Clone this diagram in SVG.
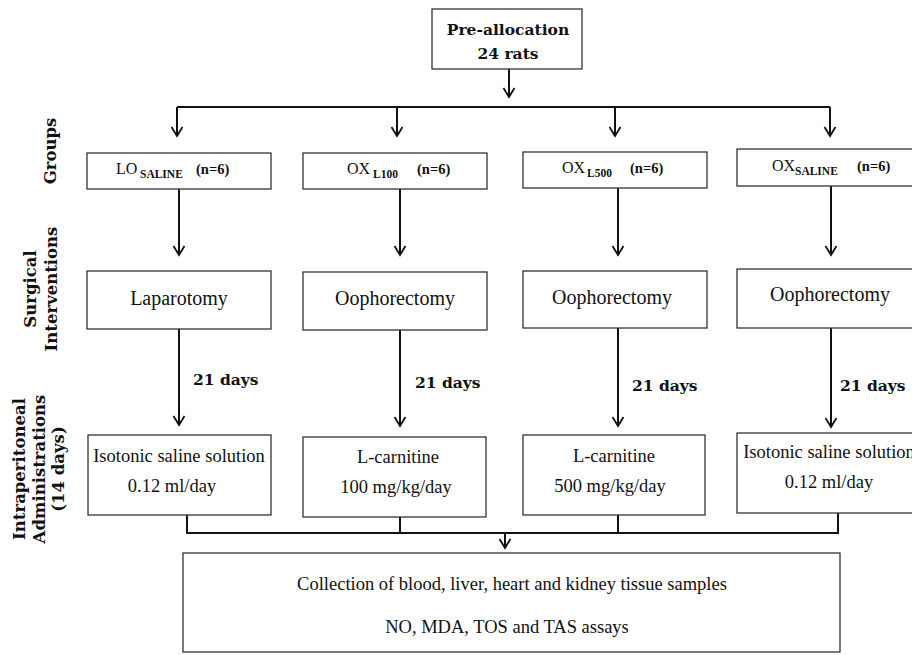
<svg xmlns="http://www.w3.org/2000/svg" width="912" height="655" viewBox="0 0 912 655">
<defs>
<marker id="ah" viewBox="0 0 14 14" refX="12" refY="7" markerWidth="14" markerHeight="14" markerUnits="userSpaceOnUse" orient="auto">
<path d="M3,1.5 L12,7 L3,12.5" fill="none" stroke="#111" stroke-width="1.8"/>
</marker>
<style>
.box{fill:#fff;stroke:#333;stroke-width:1.3}
.ln{fill:none;stroke:#111;stroke-width:2}
.arr{fill:none;stroke:#111;stroke-width:2;marker-end:url(#ah)}
.t{font-family:"Liberation Serif","Times New Roman",serif;fill:#111}
.b{font-family:"DejaVu Serif","Liberation Serif",serif;font-weight:bold;fill:#111}
.g{font-size:16px}
.sub{font-size:11.5px;font-weight:bold}
.n{font-size:14.5px;font-weight:bold}
.s{font-size:20px;text-anchor:middle}
.a{font-size:18.5px;text-anchor:middle}
.d{font-size:15.5px}
.lab{font-size:16.5px;text-anchor:middle}
</style>
</defs>
<rect width="912" height="655" fill="#fff"/>

<g id="connectors">
<path class="arr" d="M509,69 V97"/>
<path class="ln" d="M177,107 H830"/>
<path class="arr" d="M177,107 V136"/>
<path class="arr" d="M397,107 V136"/>
<path class="arr" d="M615,107 V136"/>
<path class="arr" d="M830,107 V136"/>
<path class="arr" d="M179,189 V255"/>
<path class="arr" d="M400,189 V255"/>
<path class="arr" d="M618,188 V255"/>
<path class="arr" d="M831,186 V255"/>
<path class="arr" d="M179,329 V425"/>
<path class="arr" d="M400,330 V426"/>
<path class="arr" d="M618,328 V426"/>
<path class="arr" d="M831,328 V427"/>
<path class="ln" d="M187,515 V533 M400,517 V533 M618,515 V533 M838,513 V533 M186,533 H839"/>
<path class="arr" d="M505,533 V548"/>
</g>

<g id="row-labels">
<text class="b lab" transform="translate(56,151) rotate(-90)">Groups</text>
<text class="b lab" transform="translate(36,289) rotate(-90)">Surgical</text>
<text class="b lab" transform="translate(57,289) rotate(-90)">Interventions</text>
<text class="b lab" transform="translate(25,469) rotate(-90)">Intraperitoneal</text>
<text class="b lab" transform="translate(45,469) rotate(-90)">Administrations</text>
<text class="b lab" transform="translate(64,469) rotate(-90)">(14 days)</text>
</g>

<g id="pre-allocation">
<rect class="box" x="432" y="9" width="150" height="60"/>
<text class="b" font-size="15.5" text-anchor="middle" x="508" y="35">Pre-allocation</text>
<text class="b" font-size="15.5" text-anchor="middle" x="508" y="59">24 rats</text>
</g>

<g id="group-lo-saline">
<rect class="box" x="87" y="153" width="184" height="36"/>
<text class="t"><tspan class="g" x="116" y="174">LO</tspan><tspan class="sub" x="140" y="178">SALINE</tspan><tspan class="n" x="196" y="174">(n=6)</tspan></text>
</g>
<g id="group-ox-l100">
<rect class="box" x="303" y="153" width="184" height="36"/>
<text class="t"><tspan class="g" x="347" y="174">OX</tspan><tspan class="sub" x="373" y="178">L100</tspan><tspan class="n" x="417" y="174">(n=6)</tspan></text>
</g>
<g id="group-ox-l500">
<rect class="box" x="523" y="152" width="184" height="36"/>
<text class="t"><tspan class="g" x="562" y="173">OX</tspan><tspan class="sub" x="587" y="177">L500</tspan><tspan class="n" x="630" y="173">(n=6)</tspan></text>
</g>
<g id="group-ox-saline">
<rect class="box" x="737" y="149" width="184" height="37"/>
<text class="t"><tspan class="g" x="772" y="171">OX</tspan><tspan class="sub" x="795" y="175">SALINE</tspan><tspan class="n" x="857" y="171">(n=6)</tspan></text>
</g>

<g id="surg-1">
<rect class="box" x="87" y="271" width="184" height="58"/>
<text class="t s" x="179" y="305">Laparotomy</text>
</g>
<g id="surg-2">
<rect class="box" x="303" y="272" width="184" height="58"/>
<text class="t s" x="395" y="305">Oophorectomy</text>
</g>
<g id="surg-3">
<rect class="box" x="523" y="271" width="184" height="57"/>
<text class="t s" x="612" y="304">Oophorectomy</text>
</g>
<g id="surg-4">
<rect class="box" x="737" y="269" width="184" height="59"/>
<text class="t s" x="830" y="301">Oophorectomy</text>
</g>

<g id="days">
<text class="b d" x="193" y="385">21 days</text>
<text class="b d" x="415" y="388">21 days</text>
<text class="b d" x="632" y="391">21 days</text>
<text class="b d" x="840" y="391">21 days</text>
</g>

<g id="admin-1">
<rect class="box" x="88" y="435" width="183" height="80"/>
<text class="t a" x="179" y="462">Isotonic saline solution</text>
<text class="t a" x="172" y="492">0.12 ml/day</text>
</g>
<g id="admin-2">
<rect class="box" x="303" y="437" width="183" height="80"/>
<text class="t a" x="398" y="463">L-carnitine</text>
<text class="t a" x="396" y="493">100 mg/kg/day</text>
</g>
<g id="admin-3">
<rect class="box" x="523" y="435" width="182" height="80"/>
<text class="t a" x="614" y="462">L-carnitine</text>
<text class="t a" x="610" y="492">500 mg/kg/day</text>
</g>
<g id="admin-4">
<rect class="box" x="737" y="433" width="184" height="80"/>
<text class="t a" x="829" y="458">Isotonic saline solution</text>
<text class="t a" x="829" y="488">0.12 ml/day</text>
</g>

<g id="collection">
<rect class="box" x="183" y="553" width="657" height="99"/>
<text class="t a" x="512" y="590">Collection of blood, liver, heart and kidney tissue samples</text>
<text class="t a" x="507" y="633">NO, MDA, TOS and TAS assays</text>
</g>
</svg>
